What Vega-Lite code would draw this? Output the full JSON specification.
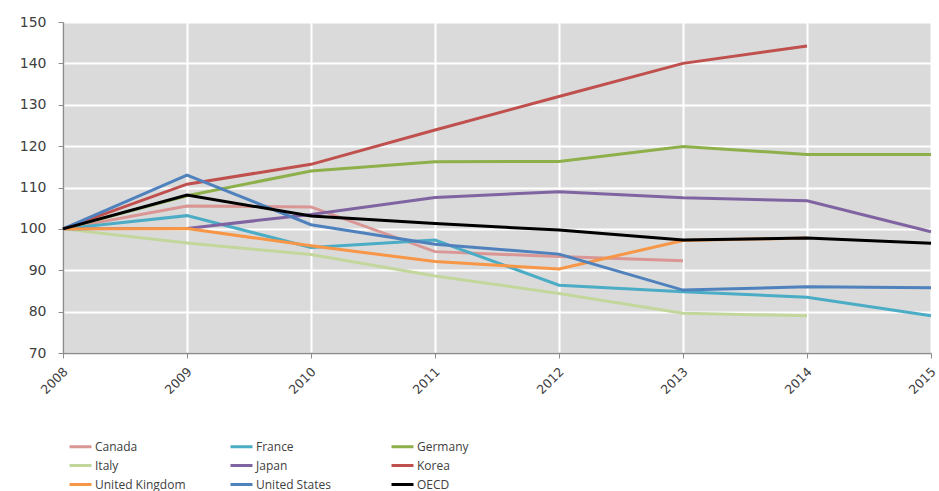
{
  "$schema": "https://vega.github.io/schema/vega-lite/v6.json",
  "width": 868,
  "height": 331,
  "autosize": {"type": "none"},
  "padding": {"left": 63, "top": 22, "right": 8, "bottom": 138},
  "background": "white",
  "config": {
    "view": {"fill": "#dadada", "stroke": null},
    "font": "Open Sans"
  },
  "data": {
    "values": [
      {"country": "Canada", "year": 2008, "value": 100},
      {"country": "Canada", "year": 2009, "value": 105.5},
      {"country": "Canada", "year": 2010, "value": 105.3},
      {"country": "Canada", "year": 2011, "value": 94.5},
      {"country": "Canada", "year": 2012, "value": 93.3},
      {"country": "Canada", "year": 2013, "value": 92.3},
      {"country": "France", "year": 2008, "value": 100},
      {"country": "France", "year": 2009, "value": 103.2},
      {"country": "France", "year": 2010, "value": 95.5},
      {"country": "France", "year": 2011, "value": 97.3},
      {"country": "France", "year": 2012, "value": 86.4},
      {"country": "France", "year": 2013, "value": 84.8},
      {"country": "France", "year": 2014, "value": 83.5},
      {"country": "France", "year": 2015, "value": 79},
      {"country": "Germany", "year": 2008, "value": 100},
      {"country": "Germany", "year": 2009, "value": 108},
      {"country": "Germany", "year": 2010, "value": 114},
      {"country": "Germany", "year": 2011, "value": 116.2},
      {"country": "Germany", "year": 2012, "value": 116.3},
      {"country": "Germany", "year": 2013, "value": 119.9},
      {"country": "Germany", "year": 2014, "value": 118},
      {"country": "Germany", "year": 2015, "value": 118},
      {"country": "Italy", "year": 2008, "value": 100},
      {"country": "Italy", "year": 2009, "value": 96.6},
      {"country": "Italy", "year": 2010, "value": 93.8},
      {"country": "Italy", "year": 2011, "value": 88.6},
      {"country": "Italy", "year": 2012, "value": 84.4},
      {"country": "Italy", "year": 2013, "value": 79.6},
      {"country": "Italy", "year": 2014, "value": 79},
      {"country": "Japan", "year": 2008, "value": 100},
      {"country": "Japan", "year": 2009, "value": 100.1},
      {"country": "Japan", "year": 2010, "value": 103.5},
      {"country": "Japan", "year": 2011, "value": 107.6},
      {"country": "Japan", "year": 2012, "value": 109},
      {"country": "Japan", "year": 2013, "value": 107.5},
      {"country": "Japan", "year": 2014, "value": 106.8},
      {"country": "Japan", "year": 2015, "value": 99.3},
      {"country": "Korea", "year": 2008, "value": 100},
      {"country": "Korea", "year": 2009, "value": 110.8},
      {"country": "Korea", "year": 2010, "value": 115.6},
      {"country": "Korea", "year": 2011, "value": 123.9},
      {"country": "Korea", "year": 2012, "value": 132},
      {"country": "Korea", "year": 2013, "value": 140},
      {"country": "Korea", "year": 2014, "value": 144.2},
      {"country": "United Kingdom", "year": 2008, "value": 100},
      {"country": "United Kingdom", "year": 2009, "value": 100.1},
      {"country": "United Kingdom", "year": 2010, "value": 95.9},
      {"country": "United Kingdom", "year": 2011, "value": 92.1},
      {"country": "United Kingdom", "year": 2012, "value": 90.3},
      {"country": "United Kingdom", "year": 2013, "value": 97.2},
      {"country": "United Kingdom", "year": 2014, "value": 97.8},
      {"country": "United States", "year": 2008, "value": 100},
      {"country": "United States", "year": 2009, "value": 113},
      {"country": "United States", "year": 2010, "value": 101},
      {"country": "United States", "year": 2011, "value": 96.3},
      {"country": "United States", "year": 2012, "value": 93.9},
      {"country": "United States", "year": 2013, "value": 85.2},
      {"country": "United States", "year": 2014, "value": 86},
      {"country": "United States", "year": 2015, "value": 85.8},
      {"country": "OECD", "year": 2008, "value": 100},
      {"country": "OECD", "year": 2009, "value": 108.2},
      {"country": "OECD", "year": 2010, "value": 103.1},
      {"country": "OECD", "year": 2011, "value": 101.3},
      {"country": "OECD", "year": 2012, "value": 99.7},
      {"country": "OECD", "year": 2013, "value": 97.3},
      {"country": "OECD", "year": 2014, "value": 97.8},
      {"country": "OECD", "year": 2015, "value": 96.5}
    ]
  },
  "mark": {"type": "line", "strokeWidth": 3, "strokeJoin": "miter"},
  "encoding": {
    "x": {
      "field": "year",
      "type": "quantitative",
      "scale": {"domain": [2008, 2015], "nice": false, "zero": false},
      "axis": {
        "title": null,
        "values": [2008, 2009, 2010, 2011, 2012, 2013, 2014, 2015],
        "format": "d",
        "labelAngle": -45,
        "labelAlign": "right",
        "labelBaseline": "top",
        "labelFont": "DejaVu Sans",
        "labelFontSize": 12.5,
        "labelColor": "#404040",
        "labelPadding": 7,
        "labelOffset": -2,
        "labelBound": false,
        "grid": true,
        "gridColor": "white",
        "gridWidth": 2,
        "domainColor": "#8c8c8c",
        "domainWidth": 1.5,
        "tickColor": "#8c8c8c",
        "tickSize": 5
      }
    },
    "y": {
      "field": "value",
      "type": "quantitative",
      "scale": {"domain": [70, 150], "nice": false, "zero": false},
      "axis": {
        "title": null,
        "values": [70, 80, 90, 100, 110, 120, 130, 140, 150],
        "labelFont": "DejaVu Sans",
        "labelFontSize": 14,
        "labelColor": "#404040",
        "labelPadding": 12,
        "grid": true,
        "gridColor": "white",
        "gridWidth": 2,
        "domainColor": "#8c8c8c",
        "domainWidth": 1.5,
        "tickColor": "#8c8c8c",
        "tickSize": 5
      }
    },
    "color": {
      "field": "country",
      "type": "nominal",
      "sort": ["Canada", "France", "Germany", "Italy", "Japan", "Korea", "United Kingdom", "United States", "OECD"],
      "scale": {
        "domain": ["Canada", "France", "Germany", "Italy", "Japan", "Korea", "United Kingdom", "United States", "OECD"],
        "range": ["#d99694", "#4bacc6", "#8db04a", "#c3d69b", "#8064a2", "#c0504d", "#f79646", "#4f81bd", "#000000"]
      },
      "legend": {
        "title": null,
        "orient": "none",
        "direction": "horizontal",
        "legendX": 5,
        "legendY": 412,
        "columns": 3,
        "gridAlign": "all",
        "columnPadding": 38,
        "rowPadding": -4,
        "symbolType": "stroke",
        "symbolSize": 484,
        "symbolStrokeWidth": 3,
        "labelFontSize": 12,
        "labelColor": "#404040",
        "labelOffset": 2
      }
    }
  }
}
